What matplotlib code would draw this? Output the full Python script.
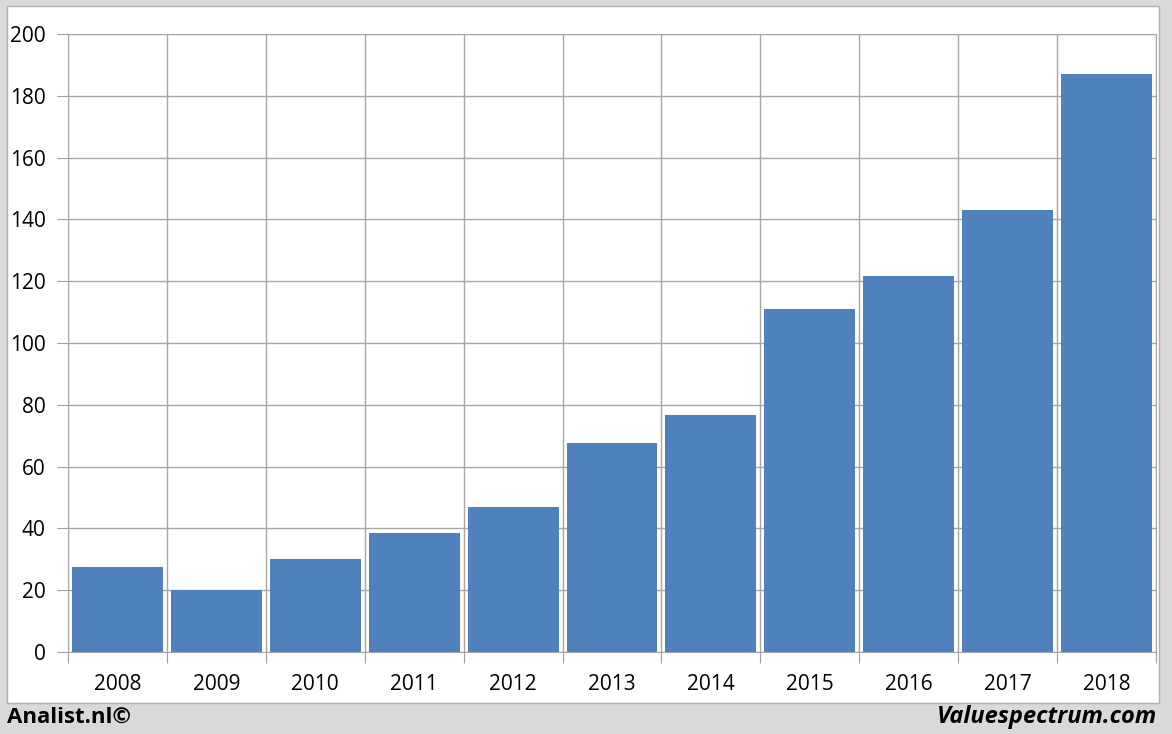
import numpy as np
import matplotlib.pyplot as plt
from matplotlib.patches import Rectangle

years = ['2008', '2009', '2010', '2011', '2012', '2013', '2014', '2015', '2016', '2017', '2018']
values = [27.5, 20.1, 30.1, 38.5, 46.9, 67.6, 76.7, 111.0, 121.7, 143.0, 187.0]
yticks = [0, 20, 40, 60, 80, 100, 120, 140, 160, 180, 200]

W, H = 1172, 734
fig = plt.figure(figsize=(W / 100, H / 100), dpi=100)
fig.patch.set_facecolor('#d9d9d9')

# white panel behind the chart
fig.patches.append(Rectangle((7 / W, 1 - 703 / H), (1159 - 7) / W, (703 - 6) / H,
                             transform=fig.transFigure, facecolor='white',
                             edgecolor='#b0b0b0', linewidth=1, zorder=-1))

ax = fig.add_axes([68 / W, 1 - 652 / H, (1156 - 68) / W, (652 - 34) / H])
ax.set_facecolor('white')

x = np.arange(len(years))
ax.bar(x, values, width=0.92, color='#4f81bd', zorder=3)

ax.set_xlim(-0.5, len(years) - 0.5)
ax.set_ylim(0, 200)
ax.set_yticks(yticks)
ax.set_yticklabels([str(v) for v in yticks])

# category boundaries for vertical grid and ticks
ax.set_xticks(np.arange(len(years) + 1) - 0.5)
ax.set_xticklabels([])
ax.set_xticks(x, minor=True)
ax.set_xticklabels(years, minor=True)
ax.tick_params(axis='x', which='minor', length=0, pad=16)
ax.tick_params(axis='x', which='major', length=8, color='#a0a0a0', direction='out')
ax.tick_params(axis='y', length=8, color='#a0a0a0', direction='out', pad=8)

ax.grid(True, which='major', color='#a6a6a6', linewidth=1, zorder=0)
for s in ax.spines.values():
    s.set_color('#a6a6a6')

for lab in ax.get_yticklabels() + ax.get_xticklabels(minor=True):
    lab.set_fontfamily('Open Sans')
    lab.set_fontsize(15)

fig.text(7 / W, 1 - 717 / H, 'Analist.nl\u00a9', fontsize=16, fontweight='bold',
         family='Open Sans', va='center', ha='left')
fig.text(1157 / W, 1 - 717 / H, 'Valuespectrum.com', fontsize=17, fontweight='bold',
         fontstyle='italic', family='Open Sans', va='center', ha='right')

fig.savefig('out.png', dpi=100, facecolor=fig.get_facecolor())
